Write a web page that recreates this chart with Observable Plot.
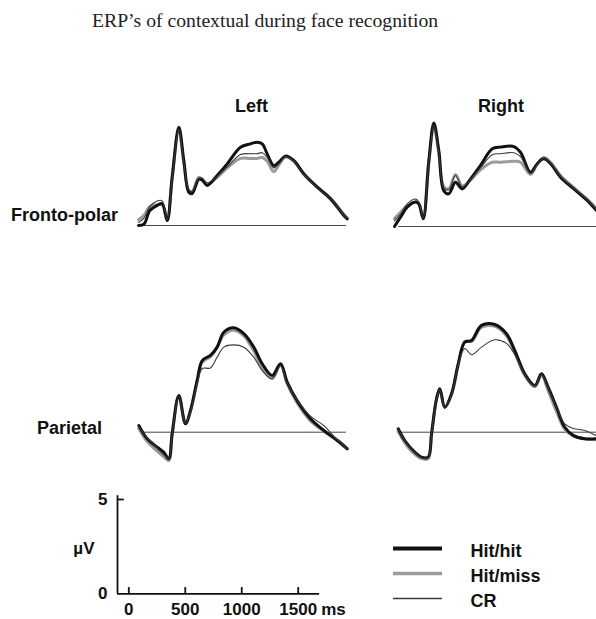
<!DOCTYPE html>
<html><head><meta charset="utf-8">
<script src="https://cdn.jsdelivr.net/npm/d3@7"></script>
<script src="https://cdn.jsdelivr.net/npm/@observablehq/plot@0.6"></script>
<style>
body{margin:0;background:#fff;}
#root{position:relative;width:596px;height:619px;overflow:hidden;background:#fff;font-family:"Liberation Sans",Arial,sans-serif;}
.lab{position:absolute;font-weight:bold;font-size:18px;line-height:18px;color:#111;white-space:nowrap;}
#title{position:absolute;left:92px;top:11px;font-family:"Liberation Serif","Times New Roman",serif;font-size:19.7px;line-height:19px;color:#222;white-space:nowrap;}
</style></head><body><div id="root"></div>
<script>
// ---------- data ----------
const conditions = ["Hit/hit", "Hit/miss", "CR"];
const columns = ["Left", "Right"];
const rowsLabels = ["Fronto-polar", "Parietal"];

// Fronto-polar, Left (time in ms, amplitude in µV)
const fpLeftT    = [-200,-150,-100,-35,10,54,98,157,201,245,275,334,364,408,496,585,703,791,850,895,939,997,1042,1101,1174,1263,1381,1499,1617,1647];
const fpLeftHit  = [0.00,0.09,0.79,1.06,1.15,0.26,2.56,5.20,3.44,1.76,1.69,2.45,2.40,2.12,2.65,3.26,4.14,4.32,4.41,4.32,3.79,3.17,3.35,3.67,3.44,2.74,2.03,1.41,0.53,0.35];
const fpLeftMiss = [0.30,0.55,1.00,1.10,1.10,0.26,2.50,5.05,3.30,1.85,1.80,2.55,2.45,2.20,2.55,3.05,3.55,3.55,3.55,3.60,3.40,2.85,3.20,3.62,3.40,2.70,2.05,1.45,0.60,0.40];
const fpLeftCR   = [0.15,0.40,1.00,1.30,1.30,0.30,2.50,5.10,3.35,1.90,1.80,2.50,2.50,2.25,2.60,3.10,3.75,3.80,3.80,3.85,3.60,3.05,3.25,3.65,3.42,2.72,2.00,1.40,0.55,0.38];

// Fronto-polar, Right
const fpRightT    = [-200,-147,-88,-14,15,54,104,148,192,236,281,340,399,473,561,665,738,856,915,1004,1063,1121,1181,1269,1387,1505,1588,1660];
const fpRightHit  = [0.00,0.49,1.02,1.29,1.20,0.41,3.49,5.47,4.02,1.90,1.73,2.34,1.99,2.52,3.23,4.11,4.20,4.23,3.93,2.87,3.32,3.58,3.32,2.61,1.99,1.38,0.85,0.45];
const fpRightMiss = [0.42,0.75,1.10,1.30,1.20,0.45,3.40,5.30,3.90,2.10,2.00,2.75,2.15,2.45,3.00,3.40,3.40,3.45,3.40,2.75,3.30,3.65,3.40,2.70,2.05,1.45,0.95,0.55];
const fpRightCR   = [0.30,0.65,1.20,1.45,1.30,0.45,3.40,5.35,3.95,2.05,1.95,2.70,2.10,2.50,3.10,3.80,3.85,3.90,3.70,2.80,3.28,3.60,3.35,2.65,2.02,1.40,0.90,0.50];

// Parietal, Left
const parLeftT    = [-197,-123,-35,24,68,98,157,216,260,319,364,437,496,555,643,732,820,895,983,1057,1116,1204,1322,1440,1558,1647];
const parLeftHit  = [0.35,-0.35,-0.79,-1.06,-1.41,-0.08,1.94,0.44,1.15,2.74,3.79,4.06,4.50,5.29,5.52,5.21,4.50,3.62,3.00,3.62,2.65,1.67,0.71,0.09,-0.44,-0.88];
const parLeftMiss = [0.20,-0.50,-1.00,-1.30,-1.50,-0.10,1.90,0.45,1.10,2.65,3.70,4.00,4.50,5.15,5.40,5.10,4.30,3.40,2.85,3.55,2.55,1.55,0.60,0.05,-0.40,-0.85];
const parLeftCR   = [0.30,-0.30,-0.85,-1.20,-1.40,-0.10,1.90,0.45,1.10,2.55,3.37,3.40,3.97,4.50,4.62,4.50,3.97,3.26,2.82,3.50,2.60,1.70,0.85,0.35,-0.40,-0.88];

// Parietal, Right
const parRightT    = [-176,-118,-43,30,89,119,163,192,236,296,355,413,473,561,679,782,856,944,1033,1092,1151,1225,1298,1373,1475,1588,1660];
const parRightHit  = [0.18,-0.44,-0.97,-1.32,-1.32,-0.08,1.77,2.30,1.32,2.03,3.62,4.76,4.85,5.65,5.70,5.21,4.32,3.09,2.47,3.09,2.38,1.32,0.26,-0.17,-0.35,-0.35,-0.40];
const parRightMiss = [0.05,-0.55,-1.10,-1.40,-1.40,-0.10,1.75,2.25,1.30,2.00,3.55,4.80,4.80,5.55,5.60,5.10,4.20,3.00,2.40,3.00,2.20,1.10,0.15,-0.20,-0.35,-0.40,-0.45];
const parRightCR   = [0.15,-0.45,-1.00,-1.35,-1.35,-0.10,1.75,2.25,1.30,2.00,3.55,4.43,4.10,4.50,4.89,4.70,4.10,3.05,2.45,3.05,2.35,1.30,0.44,0.20,0.09,-0.20,-0.30];

const baselineSpan = [-160, 1640];        // ms extent of the 0 µV reference line
const scaleXTicks = [0, 500, 1000, 1500]; // ms
const scaleYTicks = [0, 5];               // µV
const scaleXLabels = ["0", "500", "1000", "1500"];

// ---------- drawing ----------
const root = document.getElementById("root");
const K = 18.9;        // px per µV
const PXMS = 0.113;    // px per ms
const styleMap = {
  "Hit/hit":  {stroke: "#111", strokeWidth: 3},
  "Hit/miss": {stroke: "#9b9b9b", strokeWidth: 3},
  "CR":       {stroke: "#3a3a3a", strokeWidth: 1.1}
};
const drawOrder = ["Hit/miss", "Hit/hit", "CR"];

function place(el, left, top) {
  el.style.position = "absolute";
  el.style.left = left + "px";
  el.style.top = top + "px";
  root.appendChild(el);
}

function panel(times, hit, miss, cr, left, top, height, base) {
  const series = {"Hit/hit": hit, "Hit/miss": miss, "CR": cr};
  const w = (1660 + 200) * PXMS;
  const marks = [
    Plot.ruleY([{y: 0, x1: baselineSpan[0], x2: baselineSpan[1]}], {y: "y", x1: "x1", x2: "x2", stroke: "#444", strokeWidth: 1})
  ];
  for (const c of drawOrder) {
    const data = times.map((t, i) => ({t, v: series[c][i]}));
    marks.push(Plot.line(data, {x: "t", y: "v", curve: "catmull-rom", strokeLinejoin: "round", strokeLinecap: "round", ...styleMap[c]}));
  }
  const svg = Plot.plot({
    width: w, height, marginTop: 0, marginRight: 0, marginBottom: 0, marginLeft: 0,
    x: {domain: [-200, 1660], range: [0, w], axis: null},
    y: {domain: [0, 5], range: [base, base - 5 * K], axis: null},
    style: {background: "transparent", overflow: "visible"},
    marks
  });
  place(svg, left, top);
}

panel(fpLeftT,  fpLeftHit,  fpLeftMiss,  fpLeftCR,  138, 105, 135, 120);
panel(fpRightT, fpRightHit, fpRightMiss, fpRightCR, 394, 105, 135, 121);
panel(parLeftT,  parLeftHit,  parLeftMiss,  parLeftCR,  138, 305, 165, 126.7);
panel(parRightT, parRightHit, parRightMiss, parRightCR, 395, 305, 165, 126.7);

// scale bar
const fontOpts = {fontSize: 17, fontWeight: "bold", fill: "#111", fontFamily: "Liberation Sans, Arial, sans-serif"};
const scale = Plot.plot({
  width: 260, height: 139, marginTop: 0, marginRight: 0, marginBottom: 0, marginLeft: 0,
  x: {domain: [0, 1500], range: [28.3, 197.7], axis: null},
  y: {domain: [0, 5], range: [113.3, 19], axis: null},
  style: {background: "transparent", overflow: "visible"},
  marks: [
    Plot.ruleX([{x: -100, y1: 0, y2: 5.2}], {x: "x", y1: "y1", y2: "y2", stroke: "#111", strokeWidth: 1.8}),
    Plot.ruleY([{y: 0, x1: -100, x2: 1690}], {y: "y", x1: "x1", x2: "x2", stroke: "#111", strokeWidth: 1.8}),
    Plot.ruleX(scaleXTicks, {x: d => d, y1: () => 0, y2: () => 0.33, stroke: "#111", strokeWidth: 1.8}),
    Plot.ruleY(scaleYTicks.filter(d => d > 0), {y: d => d, x1: () => -100, x2: () => -40, stroke: "#111", strokeWidth: 1.8}),
    Plot.text(scaleXTicks, {x: d => d, y: () => 0, text: (d, i) => scaleXLabels[i], dy: 16, dx: (0), lineAnchor: "middle", ...fontOpts}),
    Plot.text(["ms"], {x: () => 1500, y: () => 0, dy: 16, dx: 23, textAnchor: "start", lineAnchor: "middle", ...fontOpts}),
    Plot.text(scaleYTicks, {x: () => -100, y: d => d, dx: -10, textAnchor: "end", lineAnchor: "middle", ...fontOpts}),
    Plot.text(["µV"], {x: () => -100, y: () => 2.4, dx: -23, textAnchor: "end", lineAnchor: "middle", ...fontOpts})
  ]
});
place(scale, 100, 480);

// legend
const legend = Plot.plot({
  width: 200, height: 80, marginTop: 0, marginRight: 0, marginBottom: 0, marginLeft: 0,
  x: {domain: [0, 1], range: [5, 54], axis: null},
  y: {type: "point", domain: conditions, range: [13, 63.5], padding: 0, axis: null},
  style: {background: "transparent", overflow: "visible"},
  marks: [
    ...conditions.map(c => Plot.ruleY([c], {y: d => d, x1: () => 0, x2: () => 1, stroke: styleMap[c].stroke, strokeWidth: c === "Hit/hit" ? 4 : c === "Hit/miss" ? 3.5 : 1.6})),
    Plot.text(conditions, {x: () => 1, y: d => d, text: d => d, dx: 28, dy: 3, textAnchor: "start", lineAnchor: "middle", ...fontOpts, fontSize: 18})
  ]
});
place(legend, 388, 535);

// text labels
const title = document.createElement("div");
title.id = "title";
title.textContent = "ERP\u2019s of contextual during face recognition";
root.appendChild(title);

function label(txt, left, baseline) {
  const d = document.createElement("div");
  d.className = "lab";
  d.textContent = txt;
  d.style.left = left + "px";
  d.style.top = (baseline - 15.2) + "px";
  root.appendChild(d);
}
label(columns[0], 235, 112);
label(columns[1], 478, 112);
label(rowsLabels[0], 11, 221);
label(rowsLabels[1], 37, 434);
</script></body></html>
